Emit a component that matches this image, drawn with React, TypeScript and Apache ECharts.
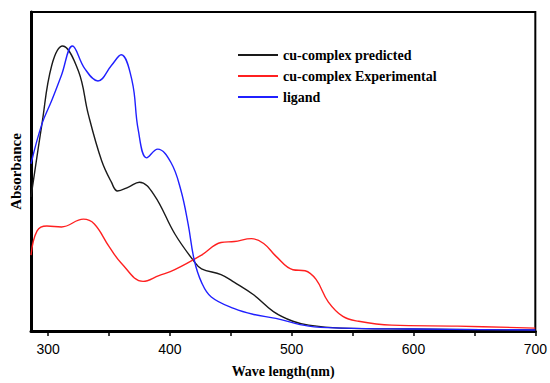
import React, { useEffect, useRef } from "react";
import * as echarts from "echarts";

const wavelengthTicks = [300, 350, 400, 450, 500, 550, 600, 650, 700];
const wavelengthLabels = [300, 400, 500, 600, 700];

const seriesNames = ["cu-complex predicted", "cu-complex Experimental", "ligand"];

const predictedX = [286, 295, 303, 312, 325, 333, 344, 352, 357, 366, 375, 387, 404, 419, 426, 442, 453, 469, 485, 501, 514, 540, 596, 700];
const predictedY = [138, 213, 273, 293, 267, 223, 175, 153, 144, 148, 153, 140, 100, 73, 64, 58, 50, 37, 20, 10, 6, 3, 2, 1];

const experimentalX = [286, 291, 299, 311, 329, 338, 350, 360, 378, 391, 404, 426, 442, 453, 467, 477, 487, 501, 511, 520, 530, 542, 555, 582, 636, 700];
const experimentalY = [78, 103, 108, 107, 115, 110, 87, 70, 51, 57, 63, 78, 91, 92, 95, 90, 77, 63, 62, 53, 30, 15, 10, 6, 5, 3];

const ligandX = [286, 295, 303, 311, 320, 330, 341, 352, 360, 369, 374, 381, 390, 401, 409, 415, 420, 426, 434, 453, 469, 487, 514, 542, 600, 700];
const ligandY = [172, 213, 237, 263, 293, 270, 257, 273, 284, 257, 207, 178, 187, 173, 145, 110, 73, 50, 35, 23, 17, 13, 5, 3, 2, 1];

const colors = ["#1a1a1a", "#ff2020", "#2020ff"];

function pairs(xs: number[], ys: number[]) {
  return xs.map((x, i) => [x, ys[i]]);
}

export default function App() {
  const ref = useRef<HTMLDivElement>(null);
  useEffect(() => {
    if (!ref.current) return;
    const chart = echarts.init(ref.current, null, { renderer: "svg" });
    const serif = "'Liberation Serif', 'DejaVu Serif', serif";
    const sans = "'Liberation Sans', Arial, sans-serif";
    chart.setOption({
      animation: false,
      backgroundColor: "#ffffff",
      grid: {
        left: 29,
        right: 14,
        top: 12,
        bottom: 43,
        show: true,
        borderColor: "#000",
        borderWidth: 2,
        backgroundColor: "transparent",
      },
      legend: {
        orient: "vertical",
        left: 238,
        top: 48,
        padding: 0,
        itemWidth: 40,
        itemHeight: 2,
        itemGap: 7,
        icon: "rect",
        data: seriesNames,
        textStyle: {
          fontFamily: serif,
          fontWeight: "bold",
          fontSize: 14,
          color: "#000",
        },
      },
      xAxis: {
        type: "value",
        min: 286,
        max: 700,
        name: "Wave length(nm)",
        nameLocation: "middle",
        nameGap: 33,
        nameTextStyle: {
          fontFamily: serif,
          fontWeight: "bold",
          fontSize: 14,
          color: "#000",
        },
        axisLine: { show: true, lineStyle: { color: "#000", width: 3 } },
        axisTick: {
          show: true,
          length: 5,
          inside: false,
          customValues: wavelengthTicks,
          lineStyle: { color: "#000", width: 1.5 },
        },
        axisLabel: {
          customValues: wavelengthLabels,
          fontFamily: sans,
          fontSize: 14,
          color: "#000",
          margin: 11,
        },
        splitLine: { show: false },
      },
      yAxis: {
        type: "value",
        min: 0,
        max: 328,
        name: "Absorbance",
        nameLocation: "middle",
        nameGap: 8,
        nameTextStyle: {
          fontFamily: serif,
          fontWeight: "bold",
          fontSize: 15,
          color: "#000",
        },
        axisLine: { show: true, lineStyle: { color: "#000", width: 3 } },
        axisTick: { show: false },
        axisLabel: { show: false },
        splitLine: { show: false },
      },
      series: [
        {
          name: seriesNames[0],
          type: "line",
          smooth: 0.4,
          symbol: "none",
          data: pairs(predictedX, predictedY),
          lineStyle: { color: colors[0], width: 1.4 },
          itemStyle: { color: colors[0] },
        },
        {
          name: seriesNames[1],
          type: "line",
          smooth: 0.4,
          symbol: "none",
          data: pairs(experimentalX, experimentalY),
          lineStyle: { color: colors[1], width: 1.4 },
          itemStyle: { color: colors[1] },
        },
        {
          name: seriesNames[2],
          type: "line",
          smooth: 0.4,
          symbol: "none",
          data: pairs(ligandX, ligandY),
          lineStyle: { color: colors[2], width: 1.4 },
          itemStyle: { color: colors[2] },
        },
      ],
    });
    return () => chart.dispose();
  }, []);
  return (
    <div
      ref={ref}
      style={{ position: "fixed", left: 0, top: 0, width: 550, height: 383 }}
    />
  );
}
